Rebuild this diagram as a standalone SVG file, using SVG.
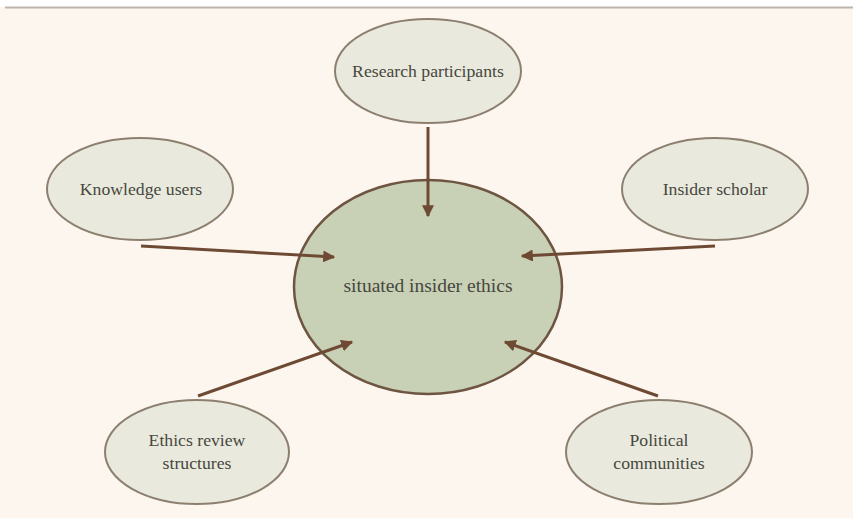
<svg xmlns="http://www.w3.org/2000/svg" width="853" height="518" viewBox="0 0 853 518">
<defs>
<style>
.node{fill:#e9eadd;stroke:#8c7f70;stroke-width:2}
.center{fill:#c8d0b5;stroke:#6e5541;stroke-width:2.5}
.lbl{font-family:"Liberation Serif","DejaVu Serif",serif;font-size:17.7px;fill:#474740;text-anchor:middle}
.lbl.big{font-size:19.5px}
.conn{stroke:#6e4a34;stroke-width:3;fill:none;marker-end:url(#ah)}
</style>
<marker id="ah" viewBox="0 0 10 10" refX="9" refY="5" markerWidth="4" markerHeight="4" orient="auto" markerUnits="strokeWidth">
<path d="M0,0 L10,5 L0,10 Z" fill="#6e4a34"/>
</marker>
</defs>
<rect x="0" y="0" width="853" height="518" fill="#fdf6ee"/>
<rect x="0" y="0" width="853" height="7" fill="#ffffff"/>
<line x1="5" y1="7.5" x2="853" y2="7.5" stroke="#bdb4aa" stroke-width="2"/>
<g id="center">
<ellipse class="center" cx="428" cy="287" rx="134" ry="107"/>
<text class="lbl big" x="428" y="292">situated insider ethics</text>
</g>
<g id="research-participants">
<ellipse class="node" cx="428" cy="71" rx="93" ry="52"/>
<text class="lbl" x="428" y="77">Research participants</text>
</g>
<g id="knowledge-users">
<ellipse class="node" cx="140" cy="189" rx="93" ry="51"/>
<text class="lbl" x="141" y="195">Knowledge users</text>
</g>
<g id="insider-scholar">
<ellipse class="node" cx="715" cy="189" rx="93" ry="51"/>
<text class="lbl" x="715" y="195">Insider scholar</text>
</g>
<g id="ethics-review">
<ellipse class="node" cx="197" cy="452" rx="92" ry="52"/>
<text class="lbl" x="197" y="446">Ethics review</text>
<text class="lbl" x="197" y="469">structures</text>
</g>
<g id="political-communities">
<ellipse class="node" cx="659" cy="452" rx="93" ry="52"/>
<text class="lbl" x="659" y="446">Political</text>
<text class="lbl" x="659" y="469">communities</text>
</g>
<g id="connectors">
<line class="conn" x1="428" y1="127" x2="428" y2="216"/>
<line class="conn" x1="141" y1="246" x2="334" y2="257"/>
<line class="conn" x1="715" y1="246" x2="522" y2="256"/>
<line class="conn" x1="198" y1="396" x2="352" y2="342"/>
<line class="conn" x1="658" y1="396" x2="505" y2="342"/>
</g>
</svg>
